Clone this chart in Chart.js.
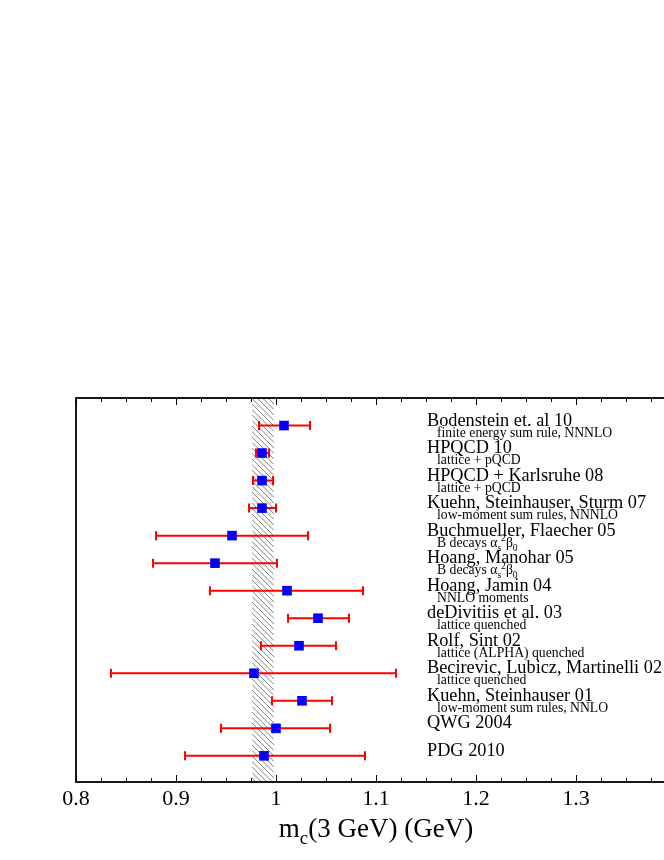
<!DOCTYPE html>
<html>
<head>
<meta charset="utf-8">
<script src="https://cdn.jsdelivr.net/npm/chart.js@4.4.0/dist/chart.umd.min.js"></script>
<style>
  html, body { margin: 0; padding: 0; background: #fff; overflow: hidden; }
  #box { width: 700px; height: 860px; }
</style>
</head>
<body>
<div id="box"><canvas id="chart" width="700" height="860"></canvas></div>
<script>
// one entry per measurement, top row first
const names = [
  'Bodenstein et. al 10',
  'HPQCD 10',
  'HPQCD + Karlsruhe 08',
  'Kuehn, Steinhauser, Sturm 07',
  'Buchmueller, Flaecher 05',
  'Hoang, Manohar 05',
  'Hoang, Jamin 04',
  'deDivitiis et al. 03',
  'Rolf, Sint 02',
  'Becirevic, Lubicz, Martinelli 02',
  'Kuehn, Steinhauser 01',
  'QWG 2004',
  'PDG 2010',
];
// _x = subscript, ^x = superscript
const notes = [
  'finite energy sum rule, NNNLO',
  'lattice + pQCD',
  'lattice + pQCD',
  'low-moment sum rules, NNNLO',
  'B decays α_s^2β_0',
  'B decays α_s^2β_0',
  'NNLO moments',
  'lattice quenched',
  'lattice (ALPHA) quenched',
  'lattice quenched',
  'low-moment sum rules, NNLO',
  '',
  '',
];
const centres = [1.008, 0.986, 0.986, 0.986, 0.956, 0.939, 1.011, 1.042, 1.023, 0.978, 1.026, 1.000, 0.988];
const lows    = [0.983, 0.980, 0.977, 0.973, 0.880, 0.877, 0.934, 1.012, 0.985, 0.835, 0.996, 0.945, 0.909];
const highs   = [1.034, 0.993, 0.997, 1.000, 1.032, 1.001, 1.087, 1.073, 1.060, 1.120, 1.056, 1.054, 1.089];

const band = [0.976, 0.998];
const xTicks = [0.8, 0.9, 1.0, 1.1, 1.2, 1.3, 1.4];
const xTickLabels = ['0.8', '0.9', '1', '1.1', '1.2', '1.3', ''];
const labelX = 1.151;

const SERIF = "'Liberation Serif', 'Times New Roman', serif";
const nRows = names.length;
const rowY = i => nRows - 1 - i;

function richText(ctx, text, x, y, size) {
  // tiny parser for _sub and ^sup single characters
  let i = 0;
  while (i < text.length) {
    let ch = text[i];
    let dy = 0, s = size;
    if ((ch === '_' || ch === '^') && i + 1 < text.length) {
      dy = ch === '_' ? size * 0.3 : -size * 0.4;
      s = size * 0.7;
      ch = text[i + 1];
      i += 2;
    } else {
      i += 1;
    }
    ctx.font = `${s}px ${SERIF}`;
    ctx.fillText(ch, x, y + dy);
    x += ctx.measureText(ch).width;
  }
}

const decor = {
  id: 'decor',
  beforeDatasetsDraw(chart) {
    const {ctx, chartArea: a, scales: {x, y}} = chart;
    // hatched band
    const x0 = x.getPixelForValue(band[0]);
    const x1 = x.getPixelForValue(band[1]);
    const w = x1 - x0;
    ctx.save();
    ctx.beginPath();
    ctx.rect(x0, a.top, w, a.bottom - a.top);
    ctx.clip();
    ctx.beginPath();
    ctx.strokeStyle = '#666';
    ctx.lineWidth = 0.8;
    for (let k = a.top - w - 5; k < a.bottom + 5; k += 5.5) {
      ctx.moveTo(x0, k);
      ctx.lineTo(x1, k + w);
    }
    ctx.stroke();
    ctx.restore();

    // error bars
    ctx.save();
    ctx.strokeStyle = '#ff0000';
    ctx.lineWidth = 2;
    for (let i = 0; i < nRows; i++) {
      const py = y.getPixelForValue(rowY(i));
      const l = x.getPixelForValue(lows[i]);
      const h = x.getPixelForValue(highs[i]);
      ctx.beginPath();
      ctx.moveTo(l, py); ctx.lineTo(h, py);
      ctx.moveTo(l, py - 4.5); ctx.lineTo(l, py + 4.5);
      ctx.moveTo(h, py - 4.5); ctx.lineTo(h, py + 4.5);
      ctx.stroke();
    }
    ctx.restore();
  },
  afterDraw(chart) {
    const {ctx, chartArea: a, scales: {x, y}} = chart;
    ctx.save();
    // frame
    ctx.strokeStyle = '#000';
    ctx.lineWidth = 1.8;
    ctx.strokeRect(a.left, a.top, a.right - a.left, a.bottom - a.top);
    // inward ticks top and bottom
    ctx.lineWidth = 1;
    ctx.beginPath();
    for (let k = 0; k <= 24; k++) {
      const v = 0.8 + k * 0.025;
      const px = Math.round(x.getPixelForValue(v)) + 0.5;
      const len = k % 4 === 0 ? 7 : 4;
      ctx.moveTo(px, a.bottom); ctx.lineTo(px, a.bottom - len);
      ctx.moveTo(px, a.top); ctx.lineTo(px, a.top + len);
    }
    ctx.stroke();

    // row labels
    ctx.fillStyle = '#000';
    ctx.textBaseline = 'alphabetic';
    ctx.textAlign = 'left';
    const lx = x.getPixelForValue(labelX);
    for (let i = 0; i < nRows; i++) {
      const py = y.getPixelForValue(rowY(i));
      ctx.font = `18.3px ${SERIF}`;
      ctx.fillText(names[i], lx, py);
      if (notes[i]) richText(ctx, notes[i], lx + 10, py + 11, 13.7);
    }

    // axis title with subscript
    const size = 27;
    ctx.font = `${size}px ${SERIF}`;
    const wm = ctx.measureText('m').width;
    const rest = '(3 GeV) (GeV)';
    const wr = ctx.measureText(rest).width;
    ctx.font = `${size * 0.7}px ${SERIF}`;
    const wc = ctx.measureText('c').width;
    let tx = (a.left + a.right) / 2 - (wm + wc + wr) / 2;
    const ty = 837;
    ctx.font = `${size}px ${SERIF}`;
    ctx.fillText('m', tx, ty);
    ctx.font = `${size * 0.7}px ${SERIF}`;
    ctx.fillText('c', tx + wm, ty + 7);
    ctx.font = `${size}px ${SERIF}`;
    ctx.fillText(rest, tx + wm + wc, ty);
    ctx.restore();
  }
};

const ctx = document.getElementById('chart').getContext('2d');
new Chart(ctx, {
  type: 'scatter',
  data: {
    datasets: [{
      data: centres.map((c, i) => ({x: c, y: rowY(i)})),
      pointStyle: 'rect',
      pointRadius: 6.8,
      pointHoverRadius: 6.8,
      pointBorderWidth: 0,
      backgroundColor: '#0000ff',
      borderColor: '#0000ff',
    }]
  },
  options: {
    responsive: false,
    animation: false,
    events: [],
    layout: { padding: { left: 76, top: 398, right: 24, bottom: 0 } },
    plugins: { legend: { display: false }, tooltip: { enabled: false } },
    scales: {
      x: {
        type: 'linear',
        min: 0.8,
        max: 1.4,
        grid: { display: false },
        border: { display: false },
        afterBuildTicks: s => { s.ticks = xTicks.map(v => ({value: v})); },
        afterFit: s => { s.height = 78; },
        ticks: {
          autoSkip: false,
          maxRotation: 0,
          padding: -4,
          color: '#000',
          font: { family: SERIF, size: 22 },
          callback: (v, i) => xTickLabels[i],
        },
      },
      y: {
        display: false,
        min: -0.95,
        max: 13.0,
      }
    }
  },
  plugins: [decor]
});
</script>
</body>
</html>
